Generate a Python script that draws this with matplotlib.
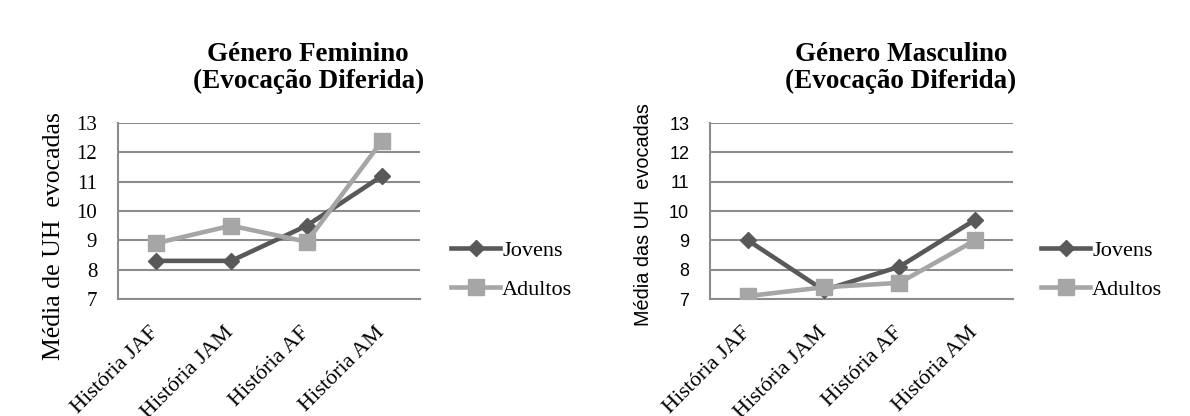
import numpy as np
import matplotlib
matplotlib.use("Agg")
import matplotlib.pyplot as plt

# dados
categorias = ["História JAF", "História JAM", "História AF", "História AM"]
fem_jovens = [8.3, 8.3, 9.5, 11.2]
fem_adultos = [8.9, 9.5, 8.95, 12.4]
masc_jovens = [9.0, 7.3, 8.1, 9.7]
masc_adultos = [7.1, 7.4, 7.55, 9.0]
titulos = ["Género Feminino\n(Evocação Diferida)", "Género Masculino\n(Evocação Diferida)"]
ylabels = ["Média de UH  evocadas", "Média das UH  evocadas"]

cor_jov = "#595959"
cor_adu = "#a6a6a6"
cor_grid = "#8c8c8c"
serif = "Liberation Serif"
sans = "Liberation Sans"

fig = plt.figure(figsize=(11.9, 4.16), dpi=100)
posicoes = [[118 / 1190, 117 / 416, 302 / 1190, 176 / 416],
            [710 / 1190, 117 / 416, 303 / 1190, 176 / 416]]
legenda_x = [440 / 1190, 1030 / 1190]
dados = [(fem_jovens, fem_adultos), (masc_jovens, masc_adultos)]
# fontes das escalas: serif a esquerda, sans a direita
tick_fonts = [(serif, 15), (sans, 13)]
ylab_fonts = [(serif, 18.5), (sans, 14.3)]
ylab_pos = [(-0.175, 0.36), (-0.188, 0.477)]

for i in range(2):
    ax = fig.add_axes(posicoes[i])
    jov, adu = dados[i]
    x = np.arange(len(categorias))
    ax.plot(x, jov, color=cor_jov, lw=3.3, marker="D", ms=8, label="Jovens", zorder=3)
    ax.plot(x, adu, color=cor_adu, lw=3.3, marker="s", ms=11, label="Adultos", zorder=3)
    ax.set_xlim(-0.5, 3.5)
    ax.set_ylim(7, 13)
    ax.set_yticks(range(7, 14))
    ax.yaxis.grid(True, color=cor_grid, lw=1.5)
    ax.set_axisbelow(True)
    for s in ["top", "right"]:
        ax.spines[s].set_visible(False)
    for s in ["left", "bottom"]:
        ax.spines[s].set_color(cor_grid)
        ax.spines[s].set_linewidth(1.5)
    ax.tick_params(axis="y", length=0, pad=15)
    ax.tick_params(axis="x", length=0, pad=22)
    ax.set_xticks(x)
    ax.set_xticklabels(categorias, rotation=45, ha="right", va="center",
                       rotation_mode="anchor", family=serif, fontsize=16)
    for t in ax.get_yticklabels():
        t.set_family(tick_fonts[i][0])
        t.set_fontsize(tick_fonts[i][1])
    ax.set_ylabel(ylabels[i], family=ylab_fonts[i][0], fontsize=ylab_fonts[i][1])
    ax.yaxis.set_label_coords(*ylab_pos[i])
    ax.set_title(titulos[i], family=serif, fontweight="bold", fontsize=19.5,
                 linespacing=1.12, pad=25, x=0.63)
    ax.legend(loc="center left", bbox_to_anchor=(legenda_x[i], 146 / 416),
              bbox_transform=fig.transFigure, frameon=False, borderpad=0,
              prop={"family": serif, "size": 16}, handlelength=2.2,
              handletextpad=0.1, labelspacing=0.85)

fig.savefig("out.png", dpi=100)
